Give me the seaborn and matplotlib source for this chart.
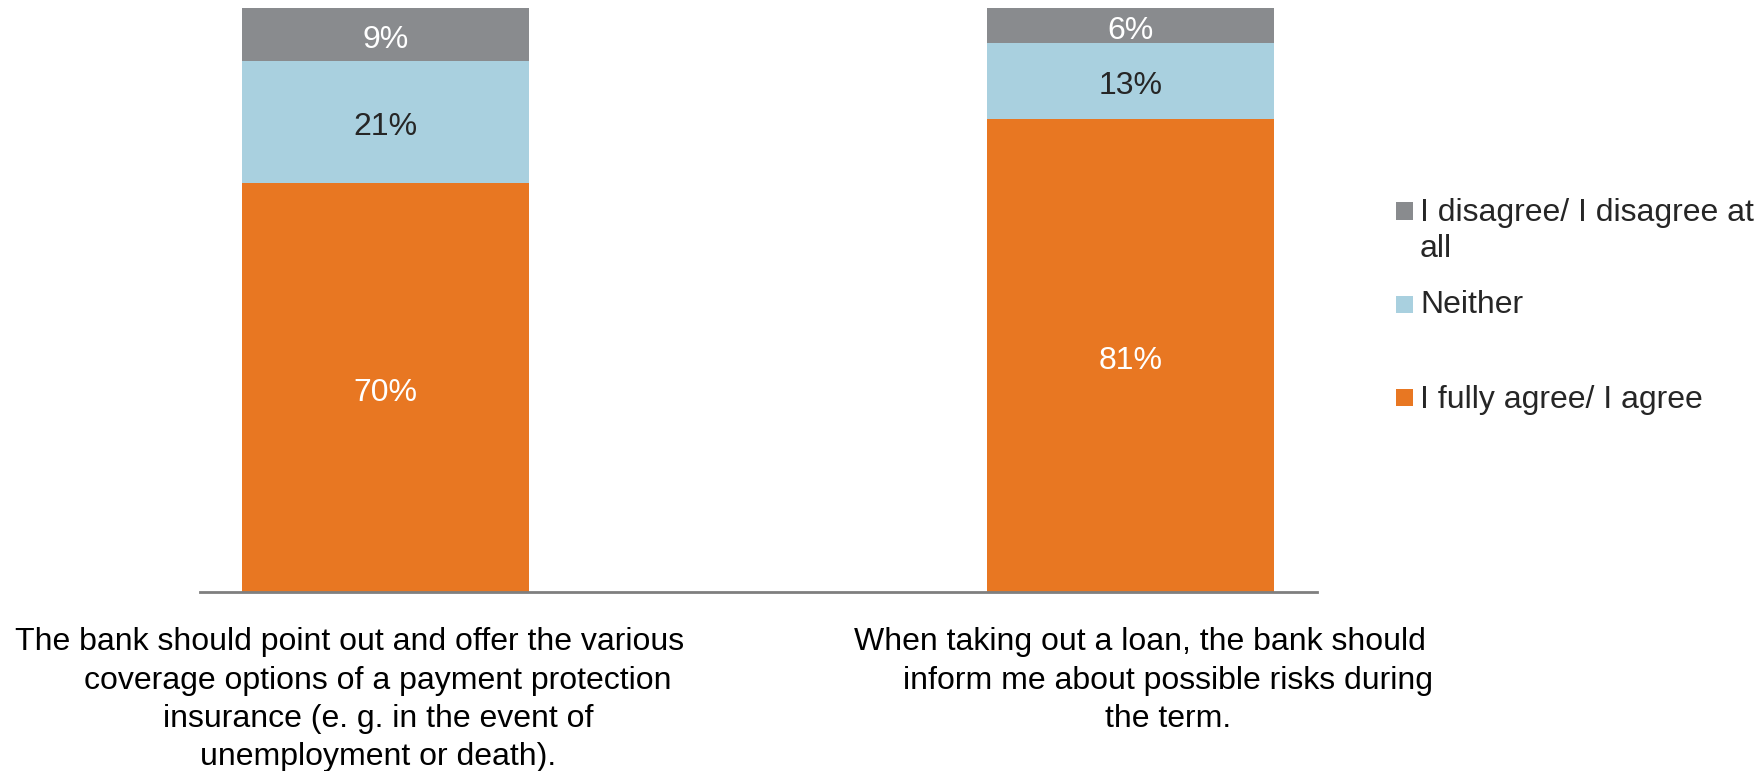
import matplotlib
matplotlib.use("Agg")
import matplotlib.pyplot as plt
import matplotlib.transforms as mtransforms
from matplotlib.patches import Rectangle
import seaborn as sns
import pandas as pd

# data
cat_keys = ["payment_protection", "loan_risks"]
cat_lines = [
    ["The bank should point out and offer the various",
     "coverage options of a payment protection",
     "insurance (e. g. in the event of",
     "unemployment or death)."],
    ["When taking out a loan, the bank should",
     "inform me about possible risks during",
     "the term."],
]
series = ["I fully agree/ I agree", "Neither", "I disagree/ I disagree at all"]
agree = [70, 81]
neither = [21, 13]
disagree = [9, 6]

colors = ["#E87722", "#A9D0DF", "#898B8E"]
value_colors = ["white", "#262626", "white"]
FS = 23

sns.set_theme(style="white")
plt.rcParams["font.family"] = ["Liberation Sans", "DejaVu Sans"]

df = pd.DataFrame({"key": cat_keys, "agree": agree, "neither": neither, "disagree": disagree})
cols = ["agree", "neither", "disagree"]
cum = df[cols].cumsum(axis=1)

W, H = 1763, 771
fig = plt.figure(figsize=(W / 100, H / 100), dpi=100, facecolor="white")
ax = fig.add_axes([200 / W, 179 / H, 1117 / W, 584 / H])

# stacked bars: draw cumulative totals from the top segment down
for col, color in reversed(list(zip(cols, colors))):
    sns.barplot(x=df["key"], y=cum[col], order=cat_keys, color=color,
                saturation=1, width=0.385, edgecolor="none", ax=ax)

ax.set_xlim(-0.249, 1.25)
ax.set_ylim(0, 100)
ax.set_xlabel("")
ax.set_ylabel("")
ax.set_yticks([])
ax.set_xticks([0, 1])
ax.set_xticklabels([])
ax.tick_params(axis="x", length=0)
for s in ["top", "left", "right"]:
    ax.spines[s].set_visible(False)
ax.spines["bottom"].set_color("#7F7F7F")
ax.spines["bottom"].set_linewidth(2)

# segment values
val_tr = mtransforms.offset_copy(ax.transData, fig=fig, x=0, y=-2, units="dots")
for i in range(len(cat_keys)):
    for j, col in enumerate(cols):
        v = df[col][i]
        y = cum[col][i] - v / 2
        ax.text(i, y, f"{v}%", transform=val_tr, ha="center", va="center_baseline",
                fontsize=FS, color=value_colors[j])

# category labels, one line at a time
block_shift = [-7.5, 37]
xtrans = ax.get_xaxis_transform()
for i, lines in enumerate(cat_lines):
    for k, line in enumerate(lines):
        dx = block_shift[i] - (28 if k == 0 else 0)
        tr = mtransforms.offset_copy(xtrans, fig=fig, x=dx, y=0, units="dots")
        ax.text(i, -(58 + k * 38.5) / 584, line, transform=tr, ha="center",
                va="baseline", fontsize=FS, color="black", clip_on=False)

# legend
fx = lambda px: px / W
fy = lambda py: 1 - py / H
leg_rows = [
    (colors[2], ["I disagree/ I disagree at", "all"], 211, 221),
    (colors[1], ["Neither"], 304, 313),
    (colors[0], ["I fully agree/ I agree"], 397, 408),
]
for color, lines, yc, yb in leg_rows:
    fig.add_artist(Rectangle((fx(1396), fy(yc + 8.5)), 17 / W, 17 / H,
                             transform=fig.transFigure, facecolor=color,
                             edgecolor="none"))
    for k, line in enumerate(lines):
        fig.text(fx(1420), fy(yb + k * 36), line, ha="left", va="baseline",
                 fontsize=FS, color="#262626")

fig.savefig("out.png", dpi=100)
plt.close(fig)
